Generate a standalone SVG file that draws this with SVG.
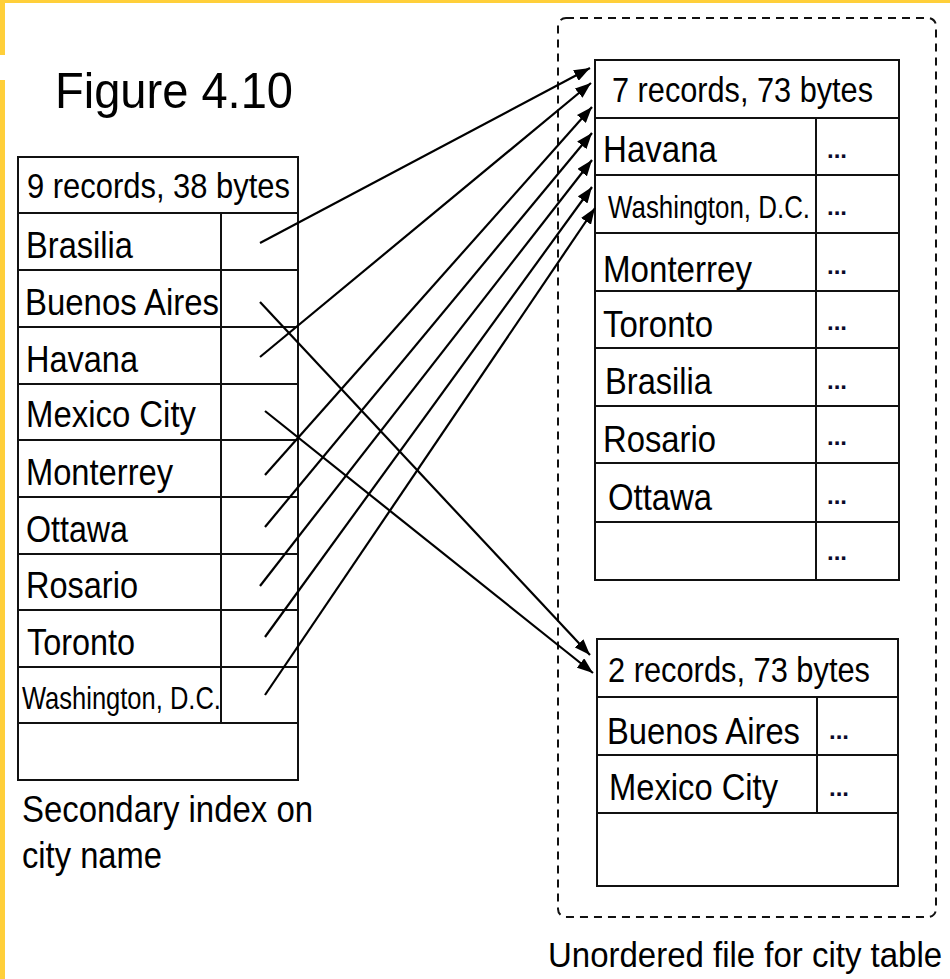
<svg xmlns="http://www.w3.org/2000/svg" width="950" height="979" viewBox="0 0 950 979">
  <defs>
    <marker id="arrow" markerUnits="userSpaceOnUse" markerWidth="16" markerHeight="12" refX="16" refY="6" orient="auto">
      <path d="M0,0 L16,6 L0,12 z" fill="#000"/>
    </marker>
    <style>
      text { font-family: "Liberation Sans", Arial, sans-serif; fill: #000; }
      .hdr { font-size: 35px; }
      .cell { font-size: 37px; }
      .small { font-size: 31px; }
      .dots { font-size: 24px; font-weight: bold; fill: #0a0a2a; }
      .cap { font-size: 37px; }
      .grid { fill: #fff; stroke: #111; stroke-width: 2; }
      .rule { stroke: #111; stroke-width: 2; }
      .link { stroke: #000; stroke-width: 2.2; fill: none; marker-end: url(#arrow); }
    </style>
  </defs>

  <rect width="950" height="979" fill="#fff"/>

  <!-- slide frame accents -->
  <g id="frame" fill="#ffcf3a">
    <rect x="0" y="0" width="950" height="3"/>
    <rect x="0" y="0" width="5" height="55"/>
    <rect x="0" y="80" width="5" height="899"/>
  </g>

  <text id="title" x="55" y="108" font-size="50" textLength="238" lengthAdjust="spacingAndGlyphs">Figure 4.10</text>

  <!-- secondary index -->
  <g id="index">
    <rect class="grid" x="18" y="157" width="280" height="623"/>
    <line class="rule" x1="18" y1="213" x2="298" y2="213"/>
    <line class="rule" x1="18" y1="270" x2="298" y2="270"/>
    <line class="rule" x1="18" y1="327" x2="298" y2="327"/>
    <line class="rule" x1="18" y1="384" x2="298" y2="384"/>
    <line class="rule" x1="18" y1="440" x2="298" y2="440"/>
    <line class="rule" x1="18" y1="497" x2="298" y2="497"/>
    <line class="rule" x1="18" y1="554" x2="298" y2="554"/>
    <line class="rule" x1="18" y1="610" x2="298" y2="610"/>
    <line class="rule" x1="18" y1="667" x2="298" y2="667"/>
    <line class="rule" x1="18" y1="723" x2="298" y2="723"/>
    <line class="rule" x1="221" y1="213" x2="221" y2="723"/>
    <text class="hdr" x="27" y="198" textLength="263" lengthAdjust="spacingAndGlyphs">9 records, 38 bytes</text>
    <text class="cell" x="26" y="258" textLength="107" lengthAdjust="spacingAndGlyphs">Brasilia</text>
    <text class="cell" x="25" y="315" textLength="194" lengthAdjust="spacingAndGlyphs">Buenos Aires</text>
    <text class="cell" x="26" y="372" textLength="112" lengthAdjust="spacingAndGlyphs">Havana</text>
    <text class="cell" x="26" y="427" textLength="170" lengthAdjust="spacingAndGlyphs">Mexico City</text>
    <text class="cell" x="26" y="485" textLength="147" lengthAdjust="spacingAndGlyphs">Monterrey</text>
    <text class="cell" x="26" y="542" textLength="102" lengthAdjust="spacingAndGlyphs">Ottawa</text>
    <text class="cell" x="26" y="598" textLength="112" lengthAdjust="spacingAndGlyphs">Rosario</text>
    <text class="cell" x="27" y="655" textLength="108" lengthAdjust="spacingAndGlyphs">Toronto</text>
    <text class="small" transform="translate(22,709) scale(0.823,1)">Washington, D.C.</text>
  </g>
  <g id="index-caption">
    <text class="cap" x="22" y="822" textLength="291" lengthAdjust="spacingAndGlyphs">Secondary index on</text>
    <text class="cap" x="22" y="868" textLength="140" lengthAdjust="spacingAndGlyphs">city name</text>
  </g>

  <!-- data file boundary -->
  <g id="file">
    <rect x="558" y="18" width="378" height="899" rx="8" ry="8" fill="none" stroke="#111" stroke-width="2" stroke-dasharray="8 6"/>
    <text class="hdr" transform="translate(548,967) scale(0.9426,1)">Unordered file for city table</text>
  </g>

  <!-- block 1 -->
  <g id="block1">
    <rect class="grid" x="595" y="60" width="304" height="520"/>
    <line class="rule" x1="595" y1="118" x2="899" y2="118"/>
    <line class="rule" x1="595" y1="175" x2="899" y2="175"/>
    <line class="rule" x1="595" y1="233" x2="899" y2="233"/>
    <line class="rule" x1="595" y1="291" x2="899" y2="291"/>
    <line class="rule" x1="595" y1="348" x2="899" y2="348"/>
    <line class="rule" x1="595" y1="406" x2="899" y2="406"/>
    <line class="rule" x1="595" y1="463" x2="899" y2="463"/>
    <line class="rule" x1="595" y1="522" x2="899" y2="522"/>
    <line class="rule" x1="816" y1="118" x2="816" y2="580"/>
    <text class="hdr" x="612" y="102" textLength="261" lengthAdjust="spacingAndGlyphs">7 records, 73 bytes</text>
    <text class="cell" x="603" y="162" textLength="114" lengthAdjust="spacingAndGlyphs">Havana</text>
    <text class="small" transform="translate(608,218) scale(0.836,1)">Washington, D.C.</text>
    <text class="cell" x="603" y="282" textLength="149" lengthAdjust="spacingAndGlyphs">Monterrey</text>
    <text class="cell" x="603" y="337" textLength="110" lengthAdjust="spacingAndGlyphs">Toronto</text>
    <text class="cell" x="605" y="394" textLength="107" lengthAdjust="spacingAndGlyphs">Brasilia</text>
    <text class="cell" x="603" y="452" textLength="113" lengthAdjust="spacingAndGlyphs">Rosario</text>
    <text class="cell" x="608" y="510" textLength="104" lengthAdjust="spacingAndGlyphs">Ottawa</text>
    <text class="dots" x="827" y="158">...</text>
    <text class="dots" x="827" y="215">...</text>
    <text class="dots" x="827" y="274">...</text>
    <text class="dots" x="827" y="330">...</text>
    <text class="dots" x="827" y="389">...</text>
    <text class="dots" x="827" y="445">...</text>
    <text class="dots" x="827" y="504">...</text>
    <text class="dots" x="827" y="560">...</text>
  </g>

  <!-- block 2 -->
  <g id="block2">
    <rect class="grid" x="597" y="639" width="301" height="247"/>
    <line class="rule" x1="597" y1="697" x2="898" y2="697"/>
    <line class="rule" x1="597" y1="755" x2="898" y2="755"/>
    <line class="rule" x1="597" y1="813" x2="898" y2="813"/>
    <line class="rule" x1="817" y1="697" x2="817" y2="813"/>
    <text class="hdr" x="608" y="682" textLength="262" lengthAdjust="spacingAndGlyphs">2 records, 73 bytes</text>
    <text class="cell" x="607" y="744" textLength="193" lengthAdjust="spacingAndGlyphs">Buenos Aires</text>
    <text class="cell" x="609" y="800" textLength="169" lengthAdjust="spacingAndGlyphs">Mexico City</text>
    <text class="dots" x="829" y="739">...</text>
    <text class="dots" x="829" y="796">...</text>
  </g>

  <!-- pointers from index entries to records -->
  <g id="connectors">
    <line class="link" x1="260" y1="243" x2="590" y2="68"/>
    <line class="link" x1="260" y1="357" x2="591" y2="83"/>
    <line class="link" x1="265" y1="475" x2="592" y2="107"/>
    <line class="link" x1="265" y1="527" x2="592" y2="133"/>
    <line class="link" x1="260" y1="586" x2="592" y2="160"/>
    <line class="link" x1="265" y1="637" x2="592" y2="187"/>
    <line class="link" x1="265" y1="695" x2="595" y2="208"/>
    <line class="link" x1="260" y1="302" x2="590" y2="655"/>
    <line class="link" x1="265" y1="411" x2="593" y2="673"/>
  </g>
</svg>
